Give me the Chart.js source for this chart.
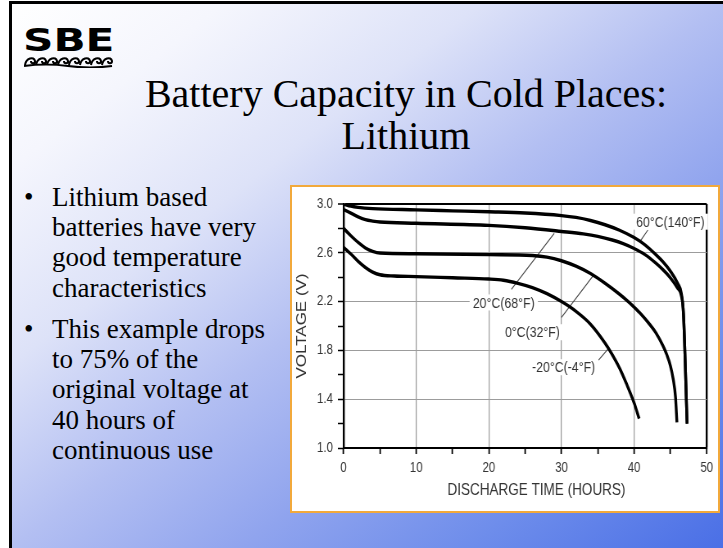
<!DOCTYPE html>
<html><head><meta charset="utf-8">
<title>Battery Capacity in Cold Places: Lithium</title>
<script src="https://cdn.jsdelivr.net/npm/chart.js@4.4.1/dist/chart.umd.min.js"></script>
<style>
html,body{margin:0;padding:0;background:#fff;}
#page{position:relative;width:723px;height:548px;overflow:hidden;background:#fff;}
#slide{position:absolute;left:9px;top:1px;right:0;bottom:0;border-left:3px solid #000;border-top:3px solid #000;
 background:linear-gradient(to bottom right,#ffffff 0%,#f5f6fd 15%,#dde2f8 33%,#b3bff2 50%,#90a4ee 66%,#6e8deb 82%,#4a6fe6 100%);}
.logo{position:absolute;left:23px;top:24px;font:bold 32px 'DejaVu Sans',sans-serif;transform-origin:0 0;transform:scaleX(1.32);color:#000;line-height:1;}
#waves{position:absolute;left:24px;top:54px;}
.title{position:absolute;left:106px;width:600px;text-align:center;font:40px 'Liberation Serif','Times New Roman',serif;color:#000;line-height:42px;white-space:nowrap;}
.bul{position:absolute;left:24px;font:27px 'Liberation Serif',serif;line-height:30.2px;color:#000;}
.bul .dot{position:absolute;left:0;top:0;}
.bul .txt{position:absolute;left:28px;top:0;white-space:nowrap;}
#box{position:absolute;left:290px;top:185px;width:430px;height:328px;box-sizing:border-box;border:2px solid #f2a93b;background:#fff;}
#c{position:absolute;left:0;top:0;transform-origin:0 0;transform:scaleX(0.8192);}
</style></head>
<body>
<div id="page">
  <div id="slide"></div>
  <div class="logo">SBE</div>
  <svg id="waves" width="90" height="14" viewBox="0 0 90 14"></svg>
  <div class="title" style="top:73px;">Battery Capacity in Cold Places:</div>
  <div class="title" style="top:115px;">Lithium</div>
  <div class="bul" style="top:182px;"><span class="dot">•</span><span class="txt">Lithium based<br>batteries have very<br>good temperature<br>characteristics</span></div>
  <div class="bul" style="top:314px;"><span class="dot">•</span><span class="txt">This example drops<br>to 75% of the<br>original voltage at<br>40 hours of<br>continuous use</span></div>
  <div id="box"><canvas id="c" width="520" height="324"></canvas></div>
</div>
<script>
// ---- data ----
const hours60 = [0, 1, 2, 4, 10, 15, 20, 25, 30, 32, 34, 36, 38, 40, 41.5, 43, 44, 45, 46, 46.5, 46.8, 47.3];
const volts60 = [3.0, 2.982, 2.972, 2.962, 2.952, 2.944, 2.936, 2.926, 2.905, 2.89, 2.865, 2.83, 2.785, 2.725, 2.665, 2.585, 2.525, 2.45, 2.35, 2.27, 2.1, 1.2];

const hours20 = [0, 1, 2, 3, 4, 5, 10, 20, 25, 30, 33, 35, 37, 38.5, 40, 41.5, 43, 44, 45, 46, 46.5, 46.8, 47.3];
const volts20 = [2.955, 2.925, 2.895, 2.872, 2.86, 2.852, 2.842, 2.825, 2.805, 2.775, 2.755, 2.735, 2.705, 2.675, 2.635, 2.585, 2.515, 2.46, 2.395, 2.31, 2.25, 2.1, 1.2];

const hours0 = [0, 1, 2, 3, 4, 5, 10, 20, 26, 28, 30, 32, 34, 36, 38, 39, 40, 41, 42, 43, 44, 44.5, 45, 45.4, 45.7, 45.9];
const volts0 = [2.8, 2.74, 2.685, 2.64, 2.612, 2.598, 2.592, 2.585, 2.578, 2.565, 2.535, 2.49, 2.43, 2.35, 2.26, 2.21, 2.155, 2.095, 2.025, 1.945, 1.835, 1.765, 1.675, 1.56, 1.42, 1.21];

const hoursM20 = [0, 1, 2, 3, 4, 5, 7, 10, 15, 20, 22, 24, 26, 28, 30, 32, 34, 36, 37, 38, 39, 40, 40.7];
const voltsM20 = [2.645, 2.59, 2.53, 2.48, 2.442, 2.42, 2.41, 2.405, 2.395, 2.385, 2.375, 2.35, 2.315, 2.265, 2.2, 2.12, 2.015, 1.86, 1.765, 1.655, 1.52, 1.37, 1.24];

const xTickValues = [0, 10, 20, 30, 40, 50];
const xTickLabels = ['0', '10', '20', '30', '40', '50'];
const yTickValues = [1.0, 1.4, 1.8, 2.2, 2.6, 3.0];
const yTickLabels = ['1.0', '1.4', '1.8', '2.2', '2.6', '3.0'];

const noteTexts = ['60°C(140°F)', '20°C(68°F)', '0°C(32°F)', '-20°C(-4°F)'];
const noteHours = [45.0, 22.05, 26.0, 30.3];
const noteVolts = [2.855, 2.193, 1.949, 1.662];
const leaderFromHours = [41.9, 23.1, 30.0, 35.1];
const leaderFromVolts = [2.787, 2.30, 2.07, 1.72];
const leaderToHours = [40.9, 29.0, 34.4, 36.4];
const leaderToVolts = [2.70, 2.76, 2.415, 1.81];

// ---- logo waves ----
(function(){
  const svg = document.getElementById('waves');
  let d = '';
  for (let i = 0; i < 8; i++) {
    const x = 1 + i * 11;
    d += `M${x},11 C${x+1},4 ${x+9},2 ${x+10},7 C${x+10},10 ${x+6},10 ${x+6},7 `;
  }
  d += 'M0,12 Q22,9 44,12 T88,12';
  const p = document.createElementNS('http://www.w3.org/2000/svg', 'path');
  p.setAttribute('d', d);
  p.setAttribute('fill', 'none');
  p.setAttribute('stroke', '#000');
  p.setAttribute('stroke-width', '2');
  svg.appendChild(p);
})();

// ---- chart ----
const FONT = "'Liberation Sans',Arial,Helvetica,sans-serif";
const TXT = '#333';
const GRID = '#9c9c9c';

function toPoints(xs, ys) { return xs.map((x, i) => ({x: x, y: ys[i]})); }
function near(a, b) { return Math.abs(a - b) < 1e-6; }
function yLabelIndex(v) { const r = Math.round(v * 10) / 10; return yTickValues.findIndex(t => near(t, r)); }
function xLabelIndex(v) { return xTickValues.findIndex(t => near(t, v)); }

const notesPlugin = {
  id: 'notes',
  beforeDatasetsDraw(chart) {
    const {ctx, scales: {x, y}} = chart;
    ctx.save();
    ctx.font = '15px ' + FONT;
    for (let i = 0; i < noteTexts.length; i++) {
      ctx.strokeStyle = '#444';
      ctx.lineWidth = 1.1;
      ctx.beginPath();
      ctx.moveTo(x.getPixelForValue(leaderFromHours[i]), y.getPixelForValue(leaderFromVolts[i]));
      ctx.lineTo(x.getPixelForValue(leaderToHours[i]), y.getPixelForValue(leaderToVolts[i]));
      ctx.stroke();
      const cx = x.getPixelForValue(noteHours[i]);
      const cy = y.getPixelForValue(noteVolts[i]);
      const w = ctx.measureText(noteTexts[i]).width;
      ctx.fillStyle = '#fff';
      ctx.fillRect(cx - w / 2 - 4, cy - 8, w + 8, 16);
      ctx.fillStyle = TXT;
      ctx.textAlign = 'center';
      ctx.textBaseline = 'middle';
      ctx.fillText(noteTexts[i], cx, cy + 1);
    }
    ctx.restore();
  }
};

const lineStyle = {showLine: true, borderColor: '#000', borderWidth: 3.4, pointRadius: 0, cubicInterpolationMode: 'monotone', borderJoinStyle: 'round', fill: false};

new Chart(document.getElementById('c'), {
  type: 'scatter',
  data: {
    datasets: [
      Object.assign({label: '60°C(140°F)', data: toPoints(hours60, volts60)}, lineStyle),
      Object.assign({label: '20°C(68°F)', data: toPoints(hours20, volts20)}, lineStyle),
      Object.assign({label: '0°C(32°F)', data: toPoints(hours0, volts0)}, lineStyle),
      Object.assign({label: '-20°C(-4°F)', data: toPoints(hoursM20, voltsM20)}, lineStyle)
    ]
  },
  options: {
    responsive: false,
    animation: false,
    devicePixelRatio: 1,
    events: [],
    layout: {padding: {left: 0, right: 10, top: 17, bottom: 0}},
    plugins: {legend: {display: false}, tooltip: {enabled: false}},
    scales: {
      x: {
        type: 'linear', min: 0, max: 50,
        ticks: {stepSize: 5, autoSkip: false, maxRotation: 0, padding: 6, color: TXT,
          font: {size: 14, family: FONT},
          callback: v => { const i = xLabelIndex(v); return i >= 0 ? xTickLabels[i] : ''; }},
        grid: {
          color: c => { const v = c.tick.value; if (near(v, 50)) return '#000'; if (near(v, 0)) return 'rgba(0,0,0,0)'; return xLabelIndex(v) >= 0 ? GRID : 'rgba(0,0,0,0)'; },
          lineWidth: c => near(c.tick.value, 50) ? 2.4 : 1.25,
          tickLength: 6, tickColor: '#000', tickWidth: 1.8
        },
        border: {color: '#000', width: 2},
        title: {display: true, text: '      DISCHARGE TIME (HOURS)', color: TXT, font: {size: 16.5, family: FONT}, padding: {top: 0, bottom: 11}},
        afterFit: s => { s.height = 63; }
      },
      y: {
        type: 'linear', min: 1, max: 3,
        ticks: {stepSize: 0.2, autoSkip: false, padding: 6, color: TXT,
          font: {size: 14, family: FONT},
          callback: v => { const i = yLabelIndex(v); return i >= 0 ? yTickLabels[i] : ''; }},
        grid: {
          color: c => { const v = c.tick.value; if (near(v, 3)) return '#000'; if (near(v, 1)) return 'rgba(0,0,0,0)'; return yLabelIndex(v) >= 0 ? GRID : 'rgba(0,0,0,0)'; },
          lineWidth: c => near(c.tick.value, 3) ? 2 : 1,
          tickLength: 7, tickColor: '#000', tickWidth: 1.5
        },
        border: {color: '#000', width: 2.4},
        title: {display: true, text: 'VOLTAGE (V)', color: TXT, font: {size: 17, family: FONT}, padding: {top: 2, bottom: 0}},
        afterFit: s => { s.width = 63; }
      }
    }
  },
  plugins: [notesPlugin]
});
</script>
</body></html>
